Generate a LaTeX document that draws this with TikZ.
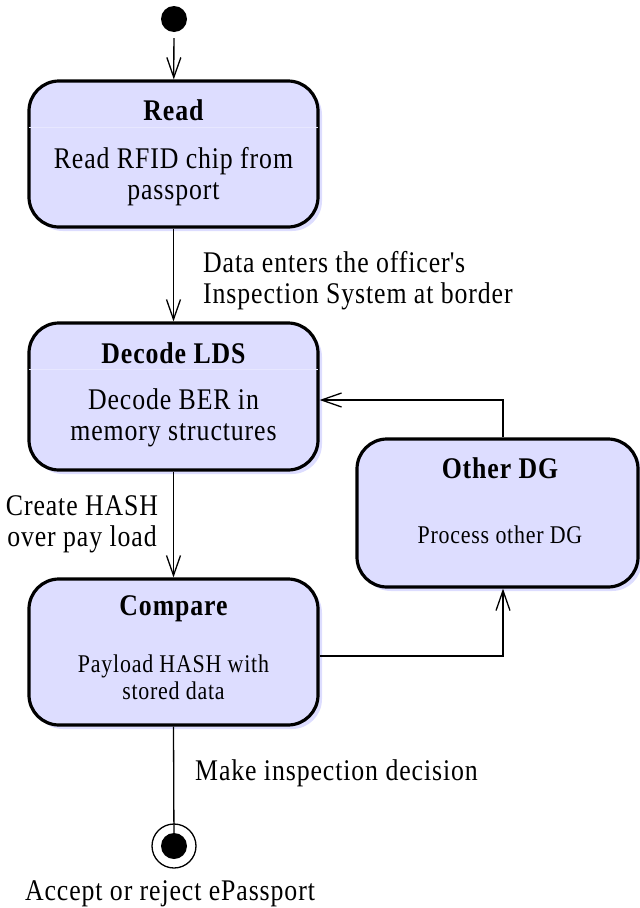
\documentclass[tikz,border=0pt]{standalone}
\usepackage{fontspec}
\setmainfont[LetterSpace=3,FakeStretch=0.86]{Liberation Serif}
\usetikzlibrary{arrows.meta,shadows}
\definecolor{statefill}{RGB}{221,221,255}
\begin{document}
\begin{tikzpicture}[x=1pt,y=-1pt,
    state/.style={draw=black,line width=3.2pt,rounded corners=30pt,fill=statefill,
      drop shadow={shadow xshift=4pt,shadow yshift=-4pt,fill=statefill,opacity=1},
      minimum width=289pt,minimum height=146pt,inner sep=0pt},
    title/.style={font=\fontsize{30}{31}\selectfont\bfseries,inner sep=0pt},
    body/.style={font=\fontsize{30}{31}\selectfont,align=center,inner sep=0pt},
    small/.style={font=\fontsize{25.5}{27}\selectfont,align=center,inner sep=0pt},
    txt/.style={font=\fontsize{30}{31}\selectfont,inner sep=0pt},
    dot/.style={circle,fill=black,minimum size=26pt,inner sep=0pt},
    flow/.style={line width=1.3pt,-{Straight Barb[length=20pt,width=14pt]}}]
    \useasboundingbox (0,0) rectangle (640,908);
    % start and end
    \node[dot] (init) at (174,19) {};
    \node[circle,draw=black,line width=1.3pt,minimum size=44pt,inner sep=0pt] (fin) at (174,846) {};
    \node[dot] (findot) at (fin) {};
    % states
    \node[state] (read) at (173.5,154) {};
    \node[state,minimum height=147pt] (decode) at (173.5,396.5) {};
    \node[state] (compare) at (173.5,652) {};
    \node[state,minimum width=281pt,minimum height=148pt] (other) at (497.5,513) {};
    \foreach \s in {read,decode}{
        \draw[statefill!70!white,line width=1pt,shorten <=2pt,shorten >=2pt]
            ([yshift=-48pt]\s.north west) -- ([yshift=-48pt]\s.north east);
    }
    \node[title] (readtitle) at (173.5,110) {Read};
    \node[body] (readbody) at (173.5,177) {Read RFID chip from\\passport};
    \node[title] (decodetitle) at (173.5,353) {Decode LDS};
    \node[body] (decodebody) at (173.5,418) {Decode BER in\\memory structures};
    \node[title] (comparetitle) at (173.5,609) {Compare};
    \node[small] (comparebody) at (173.5,677) {Payload HASH with\\stored data};
    \node[title] (othertitle) at (500,468) {Other DG};
    \node[small] (otherbody) at (500,535) {Process other DG};
    % transitions
    \draw[flow,shorten <=6pt] (init) -- (read);
    \draw[flow] (read) -- (decode);
    \draw[flow] (decode) -- (compare);
    \draw[line width=1.3pt] (compare.south) -- (findot.center);
    \draw[flow] ([yshift=-4pt]compare.east) -| ([xshift=5.5pt]other.south);
    \draw[flow] ([xshift=5.5pt]other.north) |- ([yshift=-3.5pt]decode.east);
    % labels
    \node[txt,anchor=west,align=left] (datalbl) at (203,281)
        {Data enters the officer\textquotesingle s\\Inspection System at border};
    \node[txt,align=center] (hashlbl) at (82,524) {Create HASH\\over pay load};
    \node[txt,anchor=west] (decisionlbl) at (195,773) {Make inspection decision};
    \node[txt] (acceptlbl) at (170,894) {Accept or reject ePassport};
\end{tikzpicture}
\end{document}
